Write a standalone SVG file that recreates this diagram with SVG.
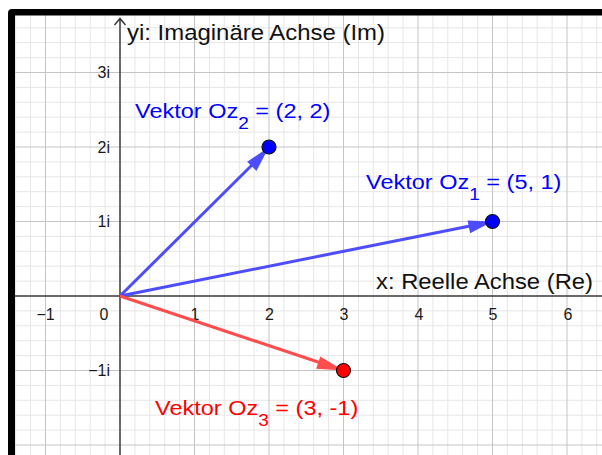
<svg xmlns="http://www.w3.org/2000/svg" width="602" height="455" viewBox="0 0 602 455">
<style>
text{font-family:"Liberation Sans",Arial,sans-serif}
.minor{stroke:#e6e6e6;stroke-width:1;fill:none}
.major{stroke:#c4c4c4;stroke-width:1;fill:none}
.axis{stroke:#3a3a3a;stroke-width:1.5;fill:none}
.tick{font-size:16px;fill:#1a1a1a}
.axlab{font-size:22px;fill:#111}
.vb{stroke:#4d4dff;stroke-width:3;fill:none}
.vr{stroke:#ff4d4d;stroke-width:3;fill:none}
.pt{stroke:#111;stroke-width:1.2}
</style>
<rect width="602" height="455" fill="#fff"/>
<g id="grid">
<path class="minor" d="M15.7 15V455M30.6 15V455M60.4 15V455M75.3 15V455M90.2 15V455M105.1 15V455M134.9 15V455M149.8 15V455M164.7 15V455M179.6 15V455M209.4 15V455M224.3 15V455M239.2 15V455M254.1 15V455M283.9 15V455M298.8 15V455M313.7 15V455M328.6 15V455M358.4 15V455M373.3 15V455M388.2 15V455M403.1 15V455M432.9 15V455M447.8 15V455M462.7 15V455M477.6 15V455M507.4 15V455M522.3 15V455M537.2 15V455M552.1 15V455M581.9 15V455M596.8 15V455
M15 27.8H602M15 42.7H602M15 57.6H602M15 87.4H602M15 102.3H602M15 117.2H602M15 132.1H602M15 161.9H602M15 176.8H602M15 191.7H602M15 206.6H602M15 236.4H602M15 251.3H602M15 266.2H602M15 281.1H602M15 310.9H602M15 325.8H602M15 340.7H602M15 355.6H602M15 385.4H602M15 400.3H602M15 415.2H602M15 430.1H602"/>
<path class="major" d="M45.5 15V455M194.5 15V455M269 15V455M343.5 15V455M418 15V455M492.5 15V455M567 15V455M15 72.5H602M15 147H602M15 221.5H602M15 370.5H602M15 445H602"/>
</g>
<g id="axes">
<path class="axis" d="M15 296H602M120 18V455M114.5 25L120 18.5L125.5 25"/>
<text class="tick" x="45.5" y="319.5" text-anchor="middle">−1</text>
<text class="tick" x="104" y="319.5" text-anchor="middle">0</text>
<text class="tick" x="195" y="319.5" text-anchor="middle">1</text>
<text class="tick" x="269.5" y="319.5" text-anchor="middle">2</text>
<text class="tick" x="344" y="319.5" text-anchor="middle">3</text>
<text class="tick" x="419" y="319.5" text-anchor="middle">4</text>
<text class="tick" x="493" y="319.5" text-anchor="middle">5</text>
<text class="tick" x="568" y="319.5" text-anchor="middle">6</text>
<text class="tick" x="110" y="78" text-anchor="end">3i</text>
<text class="tick" x="110" y="152.5" text-anchor="end">2i</text>
<text class="tick" x="110" y="227" text-anchor="end">1i</text>
<text class="tick" x="110" y="376" text-anchor="end">−1i</text>
<text class="axlab" x="127" y="40" textLength="258" lengthAdjust="spacingAndGlyphs">yi: Imaginäre Achse (Im)</text>
<text class="axlab" x="376" y="289" textLength="217" lengthAdjust="spacingAndGlyphs">x: Reelle Achse (Re)</text>
</g>
<g id="connectors">
<path class="vb" d="M120 296L252 165"/>
<path d="M269 147L247.2 161.8L256.4 171Z" fill="#4d4dff"/>
<path class="vb" d="M120 296L470 226"/>
<path d="M492.5 221.5L467.6 220.4L470.1 233.2Z" fill="#4d4dff"/>
<path class="vr" d="M120 296L321 363"/>
<path d="M343.5 370.5L320.3 356.5L316.1 368.8Z" fill="#ff4d4d"/>
</g>
<g id="z2">
<circle class="pt" cx="269" cy="147" r="7" fill="#0000ff"/>
<text transform="translate(135,118) scale(1.12,1)" font-size="21" fill="#0000ff">Vektor Oz<tspan font-size="17" dy="11">2</tspan><tspan dy="-11"> = (2, 2)</tspan></text>
</g>
<g id="z1">
<circle class="pt" cx="492.5" cy="221.5" r="7" fill="#0000ff"/>
<text transform="translate(366,189) scale(1.12,1)" font-size="21" fill="#0000ff">Vektor Oz<tspan font-size="17" dy="11">1</tspan><tspan dy="-11"> = (5, 1)</tspan></text>
</g>
<g id="z3">
<circle class="pt" cx="343.5" cy="370.5" r="7" fill="#ff0000"/>
<text transform="translate(155,415) scale(1.12,1)" font-size="21" fill="#ff0000">Vektor Oz<tspan font-size="17" dy="11">3</tspan><tspan dy="-11"> = (3, -1)</tspan></text>
</g>
<path id="frame" d="M8 455V13Q8 9 12 9H602V15.5H15V455Z" fill="#000"/>
</svg>
